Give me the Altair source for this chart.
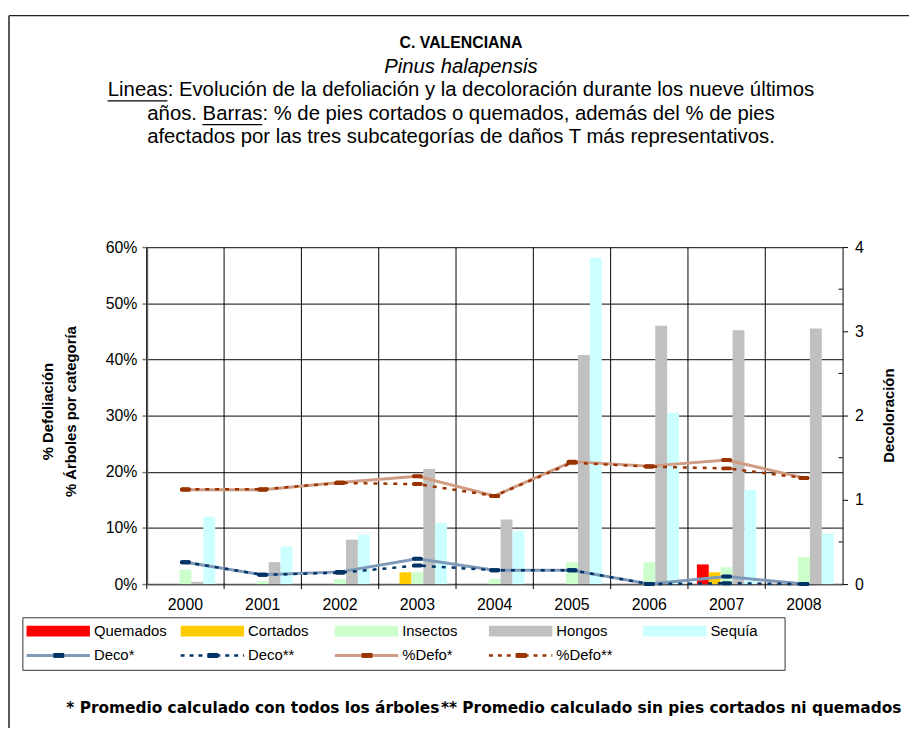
import altair as alt
import pandas as pd

# ---------------- data ----------------
years = ["2000", "2001", "2002", "2003", "2004", "2005", "2006", "2007", "2008"]
bar_cats = ["Quemados", "Cortados", "Insectos", "Hongos", "Sequía"]
bar_colors = ["#FF0000", "#FFCC00", "#CCFFCC", "#C0C0C0", "#CCFFFF"]
quemados = [0.0, 0.0, 0.0, 0.0, 0.0, 0.0, 0.0, 0.035, 0.0]
cortados = [0.0, 0.0, 0.0, 0.021, 0.0, 0.0, 0.0, 0.021, 0.0]
insectos = [0.026, 0.005, 0.009, 0.021, 0.009, 0.039, 0.039, 0.030, 0.048]
hongos = [0.004, 0.039, 0.079, 0.205, 0.115, 0.408, 0.460, 0.452, 0.455]
sequia = [0.120, 0.067, 0.088, 0.109, 0.094, 0.581, 0.305, 0.168, 0.090]

defo_all = [0.168, 0.168, 0.181, 0.192, 0.157, 0.218, 0.210, 0.221, 0.189]
defo_sin = [0.169, 0.169, 0.180, 0.178, 0.157, 0.216, 0.209, 0.206, 0.189]
deco_all = [0.26, 0.11, 0.145, 0.30, 0.165, 0.165, 0.0, 0.09, 0.0]
deco_sin = [0.26, 0.11, 0.135, 0.22, 0.165, 0.165, 0.0, 0.01, 0.0]

left_ticks = [0, 0.1, 0.2, 0.3, 0.4, 0.5, 0.6]
right_ticks = [0, 1, 2, 3, 4]
right_minor = [0.5, 1.5, 2.5, 3.5]

title_lines = [
    "C. VALENCIANA",
    "Pinus halapensis",
    "Lineas: Evolución de la defoliación y la decoloración durante los nueve últimos",
    "años. Barras: % de pies cortados o quemados, además del % de pies",
    "afectados por las tres subcategorías de daños T más representativos.",
]
foot_1 = "* Promedio calculado con todos los árboles"
foot_2 = "** Promedio calculado sin pies cortados ni quemados"
left_title = ["% Defoliación", "% Árboles por categoría"]
right_title = "Decoloración"

line_names = ["Deco*", "Deco**", "%Defo*", "%Defo**"]

# ---------------- styling ----------------
FONT = "Liberation Sans"
W, H = 702, 340
OX, OY = 148, 246  # plot origin on page

C_DECO_LINE = "#7F99B8"
C_NAVY = "#003366"
C_DEFO_LINE = "#D09C84"
C_BROWN = "#993300"

bars_df = pd.DataFrame({
    "year": years * 5,
    "cat": sum([[c] * 9 for c in bar_cats], []),
    "val": quemados + cortados + insectos + hongos + sequia,
})
lines_df = pd.DataFrame({
    "year": years, "defo1": defo_all, "defo2": defo_sin,
    "deco1": deco_all, "deco2": deco_sin,
})

xscale = alt.Scale(domain=years, paddingInner=0, paddingOuter=0)
yL = alt.Scale(domain=[0, 0.6], nice=False, zero=True)
yR = alt.Scale(domain=[0, 4], nice=False, zero=True)

X_AXIS = alt.Axis(title=None, labelAngle=0, labelFont=FONT, labelFontSize=16,
                  labelColor="black", ticks=False, domain=True, domainColor="#555555",
                  domainWidth=1.5, labelPadding=13, grid=False, labelBaseline="top")


def X(**kw):
    return alt.X("year:N", scale=xscale, axis=X_AXIS, **kw)


bars = alt.Chart(bars_df).mark_bar(opacity=1).encode(
    x=X(),
    xOffset=alt.XOffset("cat:N", sort=bar_cats,
                        scale=alt.Scale(domain=bar_cats, paddingInner=0, paddingOuter=0.75)),
    y=alt.Y("val:Q", scale=yL, axis=alt.Axis(
        title=None, values=left_ticks, format=".0%", labelFont=FONT, labelFontSize=16,
        labelColor="black", tickColor="#808080", tickSize=5, tickWidth=1.5,
        domainColor="#808080", domainWidth=2, grid=True, gridColor="#3a3a3a",
        gridWidth=1.2, labelPadding=5)),
    color=alt.Color("cat:N", scale=alt.Scale(domain=bar_cats, range=bar_colors), legend=None),
)

vgrid = alt.Chart(pd.DataFrame({"year": years})).mark_rule(color="black", strokeWidth=1).encode(
    x=X(bandPosition=0), y=alt.value(0), y2=alt.value(H + 5))


def line_layer(field, scale, color, width, dash=None, axis=None):
    kw = dict(color=color, strokeWidth=width)
    if dash:
        kw["strokeDash"] = dash
    return alt.Chart(lines_df).mark_line(**kw).encode(
        x=X(), y=alt.Y(f"{field}:Q", scale=scale, axis=axis))


def marker_layer(field, scale, color):
    return alt.Chart(lines_df).mark_tick(color=color, thickness=4, size=11, cornerRadius=2,
                                         opacity=1).encode(
        x=X(), y=alt.Y(f"{field}:Q", scale=scale, axis=None))


right_axis = alt.Axis(orient="right", title=None, values=right_ticks, labelFont=FONT,
                      labelFontSize=16, labelColor="black", tickColor="black", tickSize=5,
                      domainColor="black", domainWidth=1, grid=False, labelPadding=7)

deco1_l = line_layer("deco1", yR, C_DECO_LINE, 3, axis=right_axis)
deco2_l = line_layer("deco2", yR, C_NAVY, 2.5, dash=[4, 6])
defo1_l = line_layer("defo1", yL, C_DEFO_LINE, 3)
defo2_l = line_layer("defo2", yL, C_BROWN, 2.5, dash=[4, 6])
markers = [marker_layer("deco1", yR, C_NAVY), marker_layer("deco2", yR, C_NAVY),
           marker_layer("defo1", yL, C_BROWN), marker_layer("defo2", yL, C_BROWN)]

# minor ticks on the right axis (inside)
minor = alt.Chart(pd.DataFrame({"v": right_minor})).mark_rule(color="black", strokeWidth=1).encode(
    x=alt.value(W - 4), x2=alt.value(W), y=alt.Y("v:Q", scale=yR, axis=None))


def one(v="x"):
    return pd.DataFrame({"t": [v]})


def txt(s, x, y, size, weight="normal", style="normal", align="center", angle=0,
        font=FONT):
    return alt.Chart(one(s)).mark_text(
        font=font, fontSize=size, fontWeight=weight, fontStyle=style, align=align,
        baseline="middle", angle=angle, color="black").encode(
        x=alt.value(x), y=alt.value(y), text="t:N")


def rule(x, x2, y, y2, color="black", width=1, dash=None):
    kw = dict(color=color, strokeWidth=width)
    if dash:
        kw["strokeDash"] = dash
    return alt.Chart(one()).mark_rule(**kw).encode(
        x=alt.value(x), x2=alt.value(x2), y=alt.value(y), y2=alt.value(y2))


def rect(x, x2, y, y2, fill, stroke=None, sw=1):
    kw = dict(fill=fill)
    if stroke:
        kw.update(stroke=stroke, strokeWidth=sw)
    return alt.Chart(one()).mark_rect(**kw).encode(
        x=alt.value(x), x2=alt.value(x2), y=alt.value(y), y2=alt.value(y2))


# outer frame (top and left edges; the others fall outside the window)
frame = [rule(9 - OX, 930 - OX, 12.5 - OY, 12.5 - OY, color="#222222", width=1.5),
         rule(9 - OX, 9 - OX, 12.5 - OY, 760 - OY, color="#222222", width=1.5)]

# titles
cx = 465 - OX
fs = 20.5
texts = [
    txt(title_lines[0], cx, 40 - OY, 16, weight="bold"),
    txt(title_lines[1], cx, 64 - OY, fs, style="italic"),
    txt(title_lines[2], cx, 88 - OY, fs),
    txt(title_lines[3], cx, 112 - OY, fs),
    txt(title_lines[4], cx, 135 - OY, fs),
]
# underline for "Lineas" and "Barras" (Arial metrics in em)
l3_w, l4_w, word_w, pre4 = 34.79 * fs, 30.9 * fs, 2.946 * fs, 2.724 * fs
u1 = cx - l3_w / 2
u2 = cx - l4_w / 2 + pre4
texts += [rule(u1, u1 + word_w, 98.5 - OY, 98.5 - OY, width=1.2),
          rule(u2, u2 + word_w, 122.5 - OY, 122.5 - OY, width=1.2)]

# axis titles
texts += [txt(left_title[0], 48 - OX, H / 2 - 4, 15, weight="bold", angle=270),
          txt(left_title[1], 72 - OX, H / 2 - 4, 15, weight="bold", angle=270),
          txt(right_title, 897 - OX, H / 2, 15, weight="bold", angle=270)]

# footnotes
texts += [txt(foot_1, 255 - OX, 711 - OY, 15.5, weight="bold", font="DejaVu Sans"),
          txt(foot_2, 677 - OX, 711 - OY, 15.5, weight="bold", font="DejaVu Sans")]

# legend
leg = [rect(23 - OX, 792 - OX, 620 - OY, 673 - OY, "white", stroke="#333333", sw=1)]
step = 155.5
for i, (name, col) in enumerate(zip(bar_cats, bar_colors)):
    x0 = 26.7 + i * step - OX
    leg.append(rect(x0, x0 + 64, 628 - OY, 639 - OY, col))
    leg.append(txt(name, x0 + 68, 633 - OY, 15, align="left"))
line_styles = [(C_DECO_LINE, 3, None, C_NAVY), (C_NAVY, 2.5, [4, 5], C_NAVY),
               (C_DEFO_LINE, 3, None, C_BROWN), (C_BROWN, 2.5, [4, 5], C_BROWN)]
for i, (name, (lc, lw, dash, mc)) in enumerate(zip(line_names, line_styles)):
    x0 = 26.7 + i * step - OX
    yy = 658 - OY
    leg.append(rule(x0, x0 + 64, yy, yy, color=lc, width=lw, dash=dash))
    leg.append(rect(x0 + 27, x0 + 38, yy - 2.5, yy + 2.5, mc))
    leg.append(txt(name, x0 + 68, yy, 15, align="left"))

chart = alt.layer(
    *frame, bars, vgrid, minor, defo1_l, deco1_l, defo2_l, deco2_l, *markers, *texts, *leg
).resolve_scale(y="independent", color="independent").properties(
    width=W, height=H,
    autosize=alt.AutoSizeParams(type="none"),
    padding={"left": OX - 8, "top": OY - 8, "right": 909 - (OX - 8) - W, "bottom": 720 - (OY - 8) - H},
    background="white",
).configure_view(stroke=None)

chart.save("out.html", embed_options={"renderer": "svg", "actions": False})
